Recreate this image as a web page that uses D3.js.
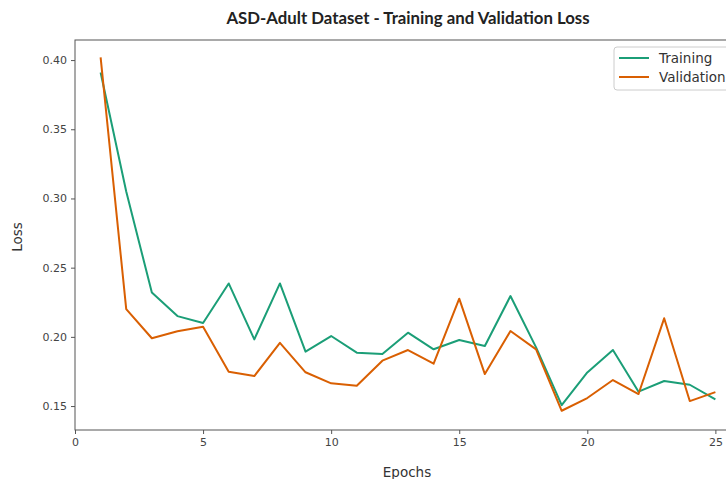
<!DOCTYPE html>
<html><head><meta charset="utf-8">
<script src="https://cdn.jsdelivr.net/npm/d3@7"></script>
<style>body{margin:0;background:#fff;}svg{display:block;}</style>
</head><body>
<svg id="c" width="726" height="479"></svg>
<script>
const epochs = [1,2,3,4,5,6,7,8,9,10,11,12,13,14,15,16,17,18,19,20,21,22,23,24,25];
const trainingLoss = [0.391,0.305,0.232,0.215,0.210,0.2386,0.1982,0.2386,0.1893,0.2006,0.1886,0.1876,0.2030,0.1910,0.1977,0.1934,0.2295,0.1924,0.1507,0.1743,0.1905,0.1604,0.1681,0.1654,0.1548];
const validationLoss = [0.402,0.220,0.199,0.204,0.2073,0.1748,0.1717,0.1957,0.1744,0.1664,0.1647,0.1828,0.1905,0.1806,0.2276,0.1731,0.2042,0.191,0.1466,0.1558,0.1688,0.1587,0.2134,0.1536,0.1601];
const xTicks = [0,5,10,15,20,25];
const yTicks = [0.15,0.20,0.25,0.30,0.35,0.40];
const seriesNames = ["Training","Validation"];
const colors = ["#1b9e77","#d95f02"];

const svg = d3.select("#c");
const mL = 75, mT = 40, mB = 430, mR = 741;
const x = d3.scaleLinear().domain([0,26]).range([mL,mR]);
const y = d3.scaleLinear().domain([0.1327,0.4145]).range([mB,mT]);

const font = "'DejaVu Sans', sans-serif";

// frame
svg.append("rect").attr("x",mL).attr("y",mT).attr("width",mR-mL).attr("height",mB-mT)
  .attr("fill","none").attr("stroke","#555").attr("stroke-width",1);

const xAxis = svg.append("g").attr("transform",`translate(0,${mB})`)
  .call(d3.axisBottom(x).tickValues(xTicks).tickFormat(d3.format("d")).tickSize(4).tickPadding(4));
const yAxis = svg.append("g").attr("transform",`translate(${mL},0)`)
  .call(d3.axisLeft(y).tickValues(yTicks).tickFormat(d3.format(".2f")).tickSize(4).tickPadding(4));
[xAxis,yAxis].forEach(a=>{
  a.select(".domain").remove();
  a.selectAll(".tick line").attr("stroke","#555");
  a.selectAll(".tick text").attr("fill","#444").style("font-family",font).style("font-size","11px");
});

const line = d3.line().x((d,i)=>x(epochs[i])).y(d=>y(d));
[trainingLoss, validationLoss].forEach((s,k)=>{
  svg.append("path").datum(s).attr("d",line).attr("fill","none")
    .attr("stroke",colors[k]).attr("stroke-width",2).attr("stroke-linejoin","round");
});

// title
svg.append("text").attr("x",408).attr("y",24).attr("text-anchor","middle")
  .style("font-family","Lato, 'DejaVu Sans', sans-serif").style("font-weight","bold").style("font-size","16.8px")
  .attr("fill","#222").text("ASD-Adult Dataset - Training and Validation Loss");

// axis labels
svg.append("text").attr("x",407).attr("y",477).attr("text-anchor","middle")
  .style("font-family",font).style("font-size","13.5px").attr("fill","#333").text("Epochs");
svg.append("text").attr("transform","translate(22,237) rotate(-90)").attr("text-anchor","middle")
  .style("font-family",font).style("font-size","13.5px").attr("fill","#333").text("Loss");

// legend
const lg = svg.append("g");
lg.append("rect").attr("x",614).attr("y",47).attr("width",140).attr("height",43).attr("rx",3)
  .attr("fill","#fff").attr("stroke","#ccc").attr("stroke-width",1);
seriesNames.forEach((n,k)=>{
  const yy = 58 + k*19;
  lg.append("line").attr("x1",619).attr("x2",649).attr("y1",yy).attr("y2",yy)
    .attr("stroke",colors[k]).attr("stroke-width",2);
  lg.append("text").attr("x",659).attr("y",yy+5).style("font-family",font).style("font-size","13.5px")
    .attr("fill","#333").text(n);
});
</script>
</body></html>
